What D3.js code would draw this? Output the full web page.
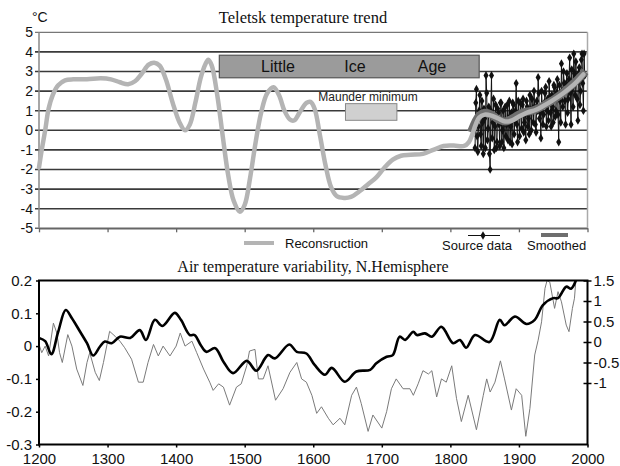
<!DOCTYPE html>
<html><head><meta charset="utf-8">
<script src="https://cdn.jsdelivr.net/npm/d3@7"></script>
<style>body{margin:0;background:#fff}svg{display:block}</style>
</head><body><svg id="c" width="620" height="466"></svg>
<script>
// ---------- Top chart data (Teletsk) ----------
const topTicks = [-5,-4,-3,-2,-1,0,1,2,3,4,5];
const topXTicks = [1200,1300,1400,1500,1600,1700,1800,1900,2000];
const reconYears = [1200,1204,1209,1214,1220,1228,1238,1250,1270,1290,1305,1318,1330,1340,1350,1360,1368,1376,1385,1395,1405,1413,1420,1428,1436,1443,1447,1452,1460,1468,1476,1484,1493,1500,1508,1516,1524,1533,1542,1550,1558,1566,1572,1580,1590,1596,1602,1610,1618,1626,1634,1645,1655,1668,1680,1692,1704,1716,1728,1742,1760,1775,1790,1805,1820,1827,1832,1837,1842,1850,1860,1870,1880,1890,1900,1912,1925,1936,1948,1961,1972,1982,1994];
const reconValues = [-1.9,-1.0,0.0,1.1,1.8,2.3,2.55,2.6,2.6,2.65,2.6,2.45,2.35,2.5,2.9,3.35,3.45,3.3,2.6,1.4,0.4,0.0,0.3,1.4,2.7,3.4,3.6,3.3,1.8,-0.3,-2.3,-3.6,-4.15,-3.8,-2.4,-0.6,0.9,1.9,2.2,1.8,1.0,0.55,0.5,0.9,1.4,1.45,1.1,-0.3,-1.8,-2.9,-3.35,-3.45,-3.4,-3.1,-2.75,-2.4,-1.9,-1.5,-1.3,-1.25,-1.2,-1.0,-0.8,-0.78,-0.8,-0.6,-0.2,0.3,0.65,0.8,0.75,0.6,0.45,0.5,0.7,0.9,1.05,1.25,1.5,1.8,2.1,2.4,2.85];
const smoothYears = [1830,1836,1842,1850,1860,1870,1880,1890,1900,1910,1920,1930,1940,1950,1960,1970,1980,1990,1997];
const smoothValues = [-0.1,0.4,0.75,0.9,0.8,0.55,0.45,0.6,0.8,0.95,1.0,1.15,1.35,1.55,1.8,2.1,2.4,2.75,3.0];
const sourceYears = d3.range(1836, 1997);
const sourceValues = [-0.9,1.4,2.1,-0.3,-1.1,0.2,1.0,1.8,-0.2,-0.8,1.5,0.4,-1.2,1.1,0.6,-0.9,2.8,1.9,-0.5,0.1,1.2,-1.2,-2.0,1.0,2.8,-0.4,0.4,1.6,-1.0,0.2,1.3,-0.9,-0.6,1.1,0.9,0.3,-0.8,1.4,1.4,-0.6,0.0,1.0,-0.9,0.4,1.2,-0.3,0.3,1.3,-0.5,0.6,1.5,-0.6,0.2,0.9,-0.7,1.4,1.3,-0.2,0.5,1.0,2.4,0.3,-0.6,1.5,0.8,-0.3,1.4,0.9,0.1,1.3,1.6,-0.1,0.4,0.8,-0.5,1.5,1.2,0.2,0.6,-0.2,1.8,1.0,0.0,1.6,1.1,0.4,2.0,1.2,0.3,-0.1,1.5,1.0,2.7,1.9,0.6,0.9,-0.4,2.0,1.3,0.3,0.8,1.4,1.9,2.2,0.2,1.0,1.6,0.5,2.5,1.7,0.9,0.2,1.8,1.2,0.4,2.3,2.2,0.7,1.0,1.9,2.6,0.8,-0.6,2.3,1.5,0.4,3.4,2.0,1.2,3.0,2.4,1.5,0.3,2.4,2.9,0.9,1.6,2.6,3.7,1.9,0.3,3.1,2.2,1.2,3.9,2.9,1.8,3.5,2.6,1.6,0.5,2.9,3.2,1.3,2.0,3.6,3.9,2.4,1.0,3.9,2.8];
const liaYears = [1463, 1842], liaValues = [2.68, 3.83];
const maunderYears = [1647, 1722], maunderValues = [0.51, 1.36];

// ---------- Bottom chart data (N. Hemisphere) ----------
const nhXTicks = [1200,1300,1400,1500,1600,1700,1800,1900,2000];
const nhLeftTicks = [-0.3,-0.2,-0.1,0,0.1,0.2];
const nhRightTicks = [-1,-0.5,0,0.5,1,1.5];
const grayYears = [1200,1204,1209,1214,1221,1226,1230,1234,1242,1248,1255,1264,1270,1274,1282,1288,1294,1303,1311,1318,1325,1335,1345,1352,1359,1367,1374,1381,1391,1400,1406,1413,1423,1430,1440,1449,1454,1462,1469,1478,1488,1495,1503,1507,1515,1520,1527,1534,1545,1556,1566,1576,1583,1590,1598,1605,1612,1622,1629,1639,1646,1656,1663,1670,1680,1687,1700,1707,1714,1721,1731,1741,1746,1753,1760,1768,1773,1780,1787,1794,1802,1809,1816,1826,1838,1848,1853,1858,1865,1873,1879,1889,1896,1904,1910,1916,1923,1928,1933,1938,1941,1945,1952,1957,1962,1969,1973,1978,1981,1983];
const grayValues = [0.005,-0.02,0.0,-0.03,0.07,0.04,-0.02,-0.05,0.035,0.0,-0.07,-0.12,-0.05,-0.02,-0.08,-0.105,-0.05,0.045,0.03,0.015,-0.005,-0.04,-0.11,-0.11,-0.05,0.005,-0.03,0.0,-0.03,0.0,0.04,0.0,0.015,-0.02,-0.07,-0.11,-0.135,-0.115,-0.125,-0.18,-0.125,-0.115,-0.06,-0.015,-0.01,-0.1,-0.1,-0.06,-0.165,-0.13,-0.08,-0.05,-0.1,-0.11,-0.15,-0.205,-0.185,-0.22,-0.24,-0.22,-0.24,-0.15,-0.125,-0.175,-0.26,-0.21,-0.25,-0.2,-0.13,-0.1,-0.13,-0.13,-0.15,-0.115,-0.075,-0.085,-0.075,-0.155,-0.1,-0.11,-0.06,-0.16,-0.23,-0.15,-0.255,-0.15,-0.1,-0.14,-0.11,-0.045,-0.1,-0.195,-0.13,-0.15,-0.275,-0.19,-0.027,0.018,0.074,0.176,0.2,0.195,0.115,0.166,0.135,0.064,0.044,0.115,0.146,0.2];
const blackYears = [1200,1209,1218,1228,1239,1248,1260,1270,1279,1289,1296,1306,1318,1333,1347,1356,1369,1380,1398,1407,1420,1427,1436,1444,1457,1469,1483,1503,1517,1534,1544,1565,1576,1590,1602,1617,1627,1646,1663,1683,1692,1707,1716,1726,1734,1746,1751,1763,1773,1787,1804,1814,1823,1836,1857,1872,1879,1894,1911,1923,1935,1950,1957,1969,1976,1983];
const blackValues = [0.1,0.02,-0.3,0.25,0.78,0.58,0.25,-0.03,-0.33,-0.11,0.01,-0.03,0.13,0.1,0.29,0.05,0.54,0.39,0.71,0.54,0.17,0.17,-0.08,-0.24,-0.15,-0.48,-0.76,-0.46,-0.7,-0.32,-0.4,-0.06,-0.24,-0.28,-0.56,-0.8,-0.63,-0.97,-0.72,-0.68,-0.52,-0.36,-0.32,0.13,0.05,0.25,0.17,0.21,0.13,0.37,-0.03,0.05,-0.14,0.17,0.0,0.54,0.41,0.62,0.44,0.54,0.9,1.07,1.07,1.35,1.3,1.5];

const svg = d3.select("#c");
const sans = "Liberation Sans, Arial, sans-serif";
const serif = "Liberation Serif, Times New Roman, serif";

// ================= TOP CHART =================
const x = d3.scaleLinear().domain([1200, 2000]).range([39, 587.5]);
const yT = d3.scaleLinear().domain([-5, 5]).range([228.3, 32.3]);
const topG = svg.append("g");

topG.selectAll("line.grid").data(topTicks).join("line")
  .attr("x1", 35).attr("x2", x(2000))
  .attr("y1", d => yT(d)).attr("y2", d => yT(d))
  .attr("stroke", d => d === 5 ? "#777" : (d === -5 ? "#666" : "#3a3a3a"))
  .attr("stroke-width", d => d === 5 ? 1.2 : 1.6);
topG.append("line").attr("x1", x(1200)).attr("x2", x(1200)).attr("y1", yT(5)).attr("y2", yT(-5)).attr("stroke", "#888").attr("stroke-width", 1.5);
topG.append("line").attr("x1", x(2000)).attr("x2", x(2000)).attr("y1", yT(5)).attr("y2", yT(-5)).attr("stroke", "#aaa").attr("stroke-width", 1.5);
const topX = topG.append("g").attr("transform", `translate(0,${yT(-5)})`)
  .call(d3.axisBottom(x).tickValues(topXTicks).tickFormat("").tickSize(4).tickSizeOuter(0));
topX.select(".domain").attr("stroke", "#666").attr("stroke-width", 1.5);
topX.selectAll(".tick line").attr("stroke", "#666").attr("stroke-width", 1.3);
const topY = topG.append("g").attr("transform", `translate(${x(1200)},0)`)
  .call(d3.axisLeft(yT).tickValues(topTicks).tickFormat(d => String(d)).tickSize(0).tickPadding(6));
topY.select(".domain").remove();
topY.selectAll("text").attr("font-family", sans).attr("font-size", 14).attr("fill", "#111");

topG.append("text").attr("x", 32).attr("y", 22).text("°C")
  .attr("font-family", sans).attr("font-size", 14).attr("fill", "#111");
topG.append("text").attr("x", 303).attr("y", 22.5).attr("text-anchor", "middle")
  .text("Teletsk temperature trend").attr("font-family", serif).attr("font-size", 16.5).attr("fill", "#111");

topG.append("rect").attr("x", x(liaYears[0])).attr("y", yT(liaValues[1]))
  .attr("width", x(liaYears[1]) - x(liaYears[0])).attr("height", yT(liaValues[0]) - yT(liaValues[1]))
  .attr("fill", "#9b9b9b").attr("stroke", "#555").attr("stroke-width", 1.2);
[["Little", 278], ["Ice", 355], ["Age", 432]].forEach(([t, px]) => {
  topG.append("text").attr("x", px).attr("y", yT(liaValues[0]) - 5.5).attr("text-anchor", "middle")
    .text(t).attr("font-family", sans).attr("font-size", 16).attr("fill", "#111");
});
topG.append("rect").attr("x", x(maunderYears[0])).attr("y", yT(maunderValues[1]))
  .attr("width", x(maunderYears[1]) - x(maunderYears[0])).attr("height", yT(maunderValues[0]) - yT(maunderValues[1]))
  .attr("fill", "#d0d0d0").attr("stroke", "#888").attr("stroke-width", 1);
topG.append("text").attr("x", 368).attr("y", 101).attr("text-anchor", "middle")
  .text("Maunder minimum").attr("font-family", sans).attr("font-size", 12).attr("fill", "#222");

const srcLine = d3.line().x((d, i) => x(sourceYears[i])).y(d => yT(d));
topG.append("path").attr("d", srcLine(sourceValues)).attr("fill", "none").attr("stroke", "#111").attr("stroke-width", 1);
const diamond = d3.symbol().type(d3.symbolDiamond).size(22);
topG.selectAll("path.src").data(sourceValues).join("path").attr("class", "src")
  .attr("d", diamond).attr("transform", (d, i) => `translate(${x(sourceYears[i])},${yT(d)})`).attr("fill", "#111");

topG.append("path").attr("d", d3.line().curve(d3.curveCatmullRom.alpha(0.5)).x((d, i) => x(smoothYears[i])).y(d => yT(d))(smoothValues))
  .attr("fill", "none").attr("stroke", "#6e6e6e").attr("stroke-width", 8).attr("stroke-linecap", "butt");
topG.append("path").attr("d", d3.line().curve(d3.curveCatmullRom.alpha(0.5)).x((d, i) => x(reconYears[i])).y(d => yT(d))(reconValues))
  .attr("fill", "none").attr("stroke", "#b4b4b4").attr("stroke-width", 4.5).attr("stroke-linecap", "round");

topG.append("line").attr("x1", 244).attr("x2", 274).attr("y1", 243).attr("y2", 243).attr("stroke", "#b4b4b4").attr("stroke-width", 4);
topG.append("text").attr("x", 285).attr("y", 248).text("Reconsruction").attr("font-family", sans).attr("font-size", 13).attr("fill", "#111");
topG.append("line").attr("x1", 468).attr("x2", 500).attr("y1", 235.5).attr("y2", 235.5).attr("stroke", "#111").attr("stroke-width", 1);
topG.append("path").attr("d", diamond).attr("transform", "translate(483,235.5)").attr("fill", "#111");
topG.append("text").attr("x", 442).attr("y", 250).text("Source data").attr("font-family", sans).attr("font-size", 13).attr("fill", "#111");
topG.append("line").attr("x1", 541).attr("x2", 568).attr("y1", 235).attr("y2", 235).attr("stroke", "#6e6e6e").attr("stroke-width", 4);
topG.append("text").attr("x", 527).attr("y", 250).text("Smoothed").attr("font-family", sans).attr("font-size", 13).attr("fill", "#111");

// ================= BOTTOM CHART =================
const yL = d3.scaleLinear().domain([-0.3, 0.2]).range([444.5, 280.5]);
const yR = d3.scaleLinear().domain([-2.5, 1.5]).range([444.5, 280.5]);
const bot = svg.append("g");
bot.append("text").attr("x", 313).attr("y", 272).attr("text-anchor", "middle")
  .text("Air temperature variability, N.Hemisphere").attr("font-family", serif).attr("font-size", 16).attr("fill", "#111");

svg.append("defs").append("clipPath").attr("id", "clipB").append("rect")
  .attr("x", x(1200)).attr("y", yL(0.2)).attr("width", x(2000) - x(1200)).attr("height", yL(-0.3) - yL(0.2));

bot.append("path").attr("clip-path", "url(#clipB)")
  .attr("d", d3.line().x((d, i) => x(grayYears[i])).y(d => yL(d))(grayValues))
  .attr("fill", "none").attr("stroke", "#7a7a7a").attr("stroke-width", 1);
bot.append("path").attr("clip-path", "url(#clipB)")
  .attr("d", d3.line().curve(d3.curveCatmullRom.alpha(0.5)).x((d, i) => x(blackYears[i])).y(d => yR(d))(blackValues))
  .attr("fill", "none").attr("stroke", "#000").attr("stroke-width", 2.6);

bot.append("rect").attr("x", x(1200)).attr("y", yL(0.2)).attr("width", x(2000) - x(1200)).attr("height", yL(-0.3) - yL(0.2))
  .attr("fill", "none").attr("stroke", "#000").attr("stroke-width", 2);

const fmt = d => String(d);
const bL = bot.append("g").attr("transform", `translate(${x(1200)},0)`)
  .call(d3.axisLeft(yL).tickValues(nhLeftTicks).tickFormat(fmt).tickSize(3).tickPadding(4));
bL.select(".domain").remove();
bL.selectAll("text").attr("font-family", sans).attr("font-size", 15).attr("fill", "#111");
bL.selectAll(".tick line").attr("stroke", "#000").attr("stroke-width", 1.5);

const bR = bot.append("g").attr("transform", `translate(${x(2000)},0)`)
  .call(d3.axisRight(yR).tickValues(nhRightTicks).tickFormat(fmt).tickSize(4).tickPadding(2));
bR.select(".domain").remove();
bR.selectAll(".tick line").attr("x1", -4).attr("stroke", "#000").attr("stroke-width", 1.5);
bR.selectAll("text").attr("font-family", sans).attr("font-size", 15).attr("fill", "#111");

const bX = bot.append("g").attr("transform", `translate(0,${yL(-0.3)})`)
  .call(d3.axisBottom(x).tickValues(nhXTicks).tickFormat(fmt).tickSize(3).tickPadding(6));
bX.select(".domain").remove();
bX.selectAll(".tick line").attr("stroke", "#000").attr("stroke-width", 1.5);
bX.selectAll("text").attr("font-family", sans).attr("font-size", 15).attr("fill", "#111");
</script>
</body></html>
